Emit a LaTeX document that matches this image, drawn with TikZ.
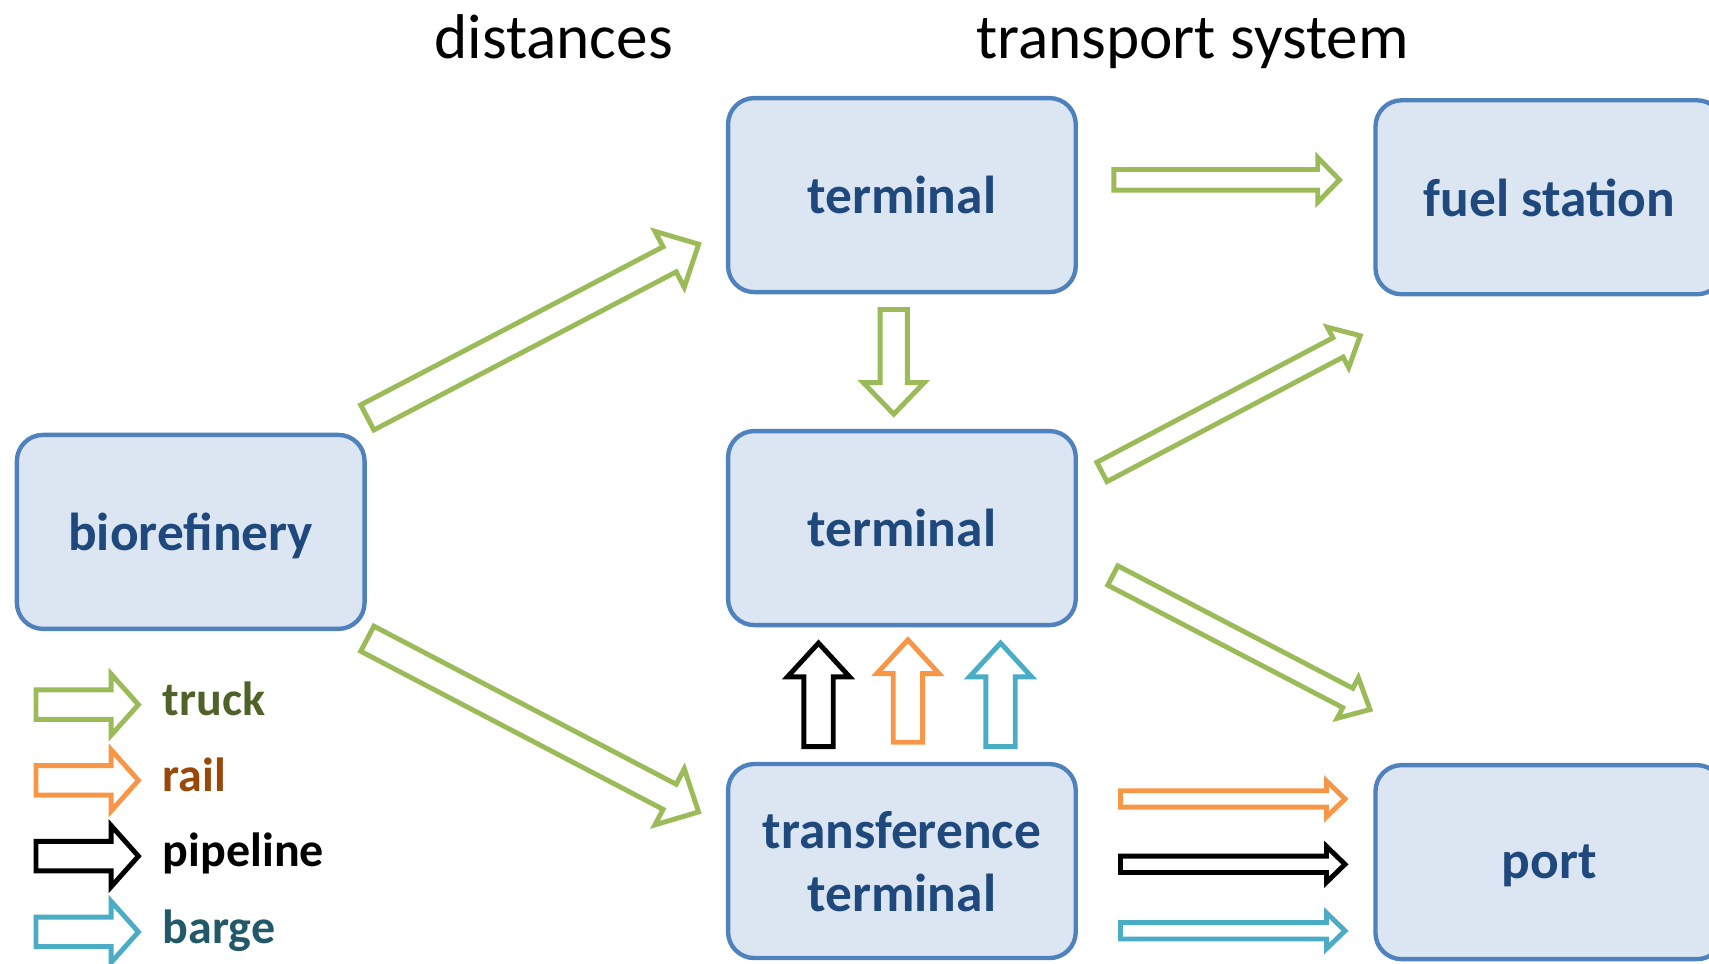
\documentclass[tikz,border=0pt]{standalone}
\usepackage{fontspec}
\setmainfont{Carlito}
\usetikzlibrary{calc}

\definecolor{boxfill}{HTML}{DCE6F2}
\definecolor{boxline}{HTML}{4F81BD}
\definecolor{boxtext}{HTML}{1F497D}
\definecolor{truckc}{HTML}{9BBB59}
\definecolor{truckt}{HTML}{4F6228}
\definecolor{railc}{HTML}{F79646}
\definecolor{railt}{HTML}{984807}
\definecolor{bargec}{HTML}{4BACC6}
\definecolor{barget}{HTML}{215968}

% Outlined block arrow from one named coordinate to another.
% #1 style, #2 tail, #3 tip, #4 shaft half width, #5 head half width, #6 head length (pt)
\newcommand{\flowarrow}[6]{%
  \pgfpointdiff{\pgfpointanchor{#2}{center}}{\pgfpointanchor{#3}{center}}%
  \pgfgetlastxy{\fadx}{\fady}%
  \pgfmathsetmacro\faang{atan2(\fady,\fadx)}%
  \pgfmathsetmacro\falen{veclen(\fadx,\fady)}%
  \draw[#1,shift={(#2)},rotate=\faang]
    (0pt,-#4pt) -- ({\falen pt-#6pt},-#4pt) -- ({\falen pt-#6pt},-#5pt)
    -- (\falen pt,0pt)
    -- ({\falen pt-#6pt},#5pt) -- ({\falen pt-#6pt},#4pt) -- (0pt,#4pt) -- cycle;
}

\begin{document}
\begin{tikzpicture}[x=1pt,y=-1pt,
  box/.style={draw=boxline, fill=boxfill, line width=4pt, rounded corners=24pt,
    minimum width=319pt, minimum height=178pt, inner sep=0pt, align=center,
    text depth=0pt, text=boxtext, font=\bfseries\fontsize{49}{58}\selectfont},
  head/.style={anchor=base, font=\fontsize{58}{68}\selectfont},
  legend/.style={anchor=base west, font=\bfseries\fontsize{44}{52}\selectfont},
  truck/.style={draw=truckc, line width=4.5pt},
  rail/.style={draw=railc, line width=4.5pt},
  pipe/.style={draw=black, line width=4.5pt},
  barge/.style={draw=bargec, line width=4.5pt}]
\clip (0,0) rectangle (1568,884);

% headings
\node[head] (hdist) at (508,54) {distances};
\node[head] (htrans) at (1094,54) {transport system};

% facilities
\node[box] (t1) at (827.5,179) {terminal};
\node[box] (fs) at (1421.5,181) {fuel station};
\node[box] (bio) at (175,488) {biorefinery};
\node[box] (t2) at (827.5,484.5) {terminal};
\node[box] (tt) at (827.5,790) {transference\\terminal};
\node[box] (port) at (1421.5,791) {port};

% arrow end points
\coordinate (a1s) at (337,383);   \coordinate (a1e) at (641,224);
\coordinate (a2s) at (337,586);   \coordinate (a2e) at (641,745);
\coordinate (a3s) at (1022,165);  \coordinate (a3e) at (1229,165);
\coordinate (a4s) at (820,284);   \coordinate (a4e) at (820,380);
\coordinate (a5s) at (1011,433);  \coordinate (a5e) at (1248,308);
\coordinate (a6s) at (1021,528);  \coordinate (a6e) at (1257,651);
\coordinate (a7s) at (751,685);   \coordinate (a7e) at (751,590);
\coordinate (a8s) at (833,681);   \coordinate (a8e) at (833,587);
\coordinate (a9s) at (918,685);   \coordinate (a9e) at (918,590);
\coordinate (a10s) at (1028,733); \coordinate (a10e) at (1234,733);
\coordinate (a11s) at (1028,793); \coordinate (a11e) at (1234,793);
\coordinate (a12s) at (1028,854); \coordinate (a12e) at (1234,854);

% truck links
\flowarrow{truck}{a1s}{a1e}{13}{29}{30}
\flowarrow{truck}{a2s}{a2e}{13}{29}{30}
\flowarrow{truck}{a3s}{a3e}{9.5}{20.5}{20}
\flowarrow{truck}{a4s}{a4e}{12.5}{28}{29}
\flowarrow{truck}{a5s}{a5e}{10}{21}{23}
\flowarrow{truck}{a6s}{a6e}{10}{21}{23}

% transference terminal to terminal
\flowarrow{pipe}{a7s}{a7e}{13.5}{28.5}{31}
\flowarrow{rail}{a8s}{a8e}{13.5}{28.5}{31}
\flowarrow{barge}{a9s}{a9e}{13.5}{28.5}{31}

% transference terminal to port
\flowarrow{rail}{a10s}{a10e}{7.5}{16.5}{17}
\flowarrow{pipe}{a11s}{a11e}{7.5}{16.5}{17}
\flowarrow{barge}{a12s}{a12e}{7.5}{16.5}{17}

% legend
\coordinate (l1s) at (33,646.5); \coordinate (l1e) at (127,646.5);
\coordinate (l2s) at (33,716);   \coordinate (l2e) at (127,716);
\coordinate (l3s) at (33,785.5); \coordinate (l3e) at (127,785.5);
\coordinate (l4s) at (33,855);   \coordinate (l4e) at (127,855);
\flowarrow{truck}{l1s}{l1e}{13.5}{28}{25}
\flowarrow{rail}{l2s}{l2e}{13.5}{28}{25}
\flowarrow{pipe}{l3s}{l3e}{13.5}{28}{25}
\flowarrow{barge}{l4s}{l4e}{13.5}{28}{25}
\node[legend, text=truckt] (ltruck) at (146,656) {truck};
\node[legend, text=railt] (lrail) at (146,726) {rail};
\node[legend, text=black] (lpipe) at (146,795) {pipeline};
\node[legend, text=barget] (lbarge) at (146,866) {barge};
\end{tikzpicture}
\end{document}
